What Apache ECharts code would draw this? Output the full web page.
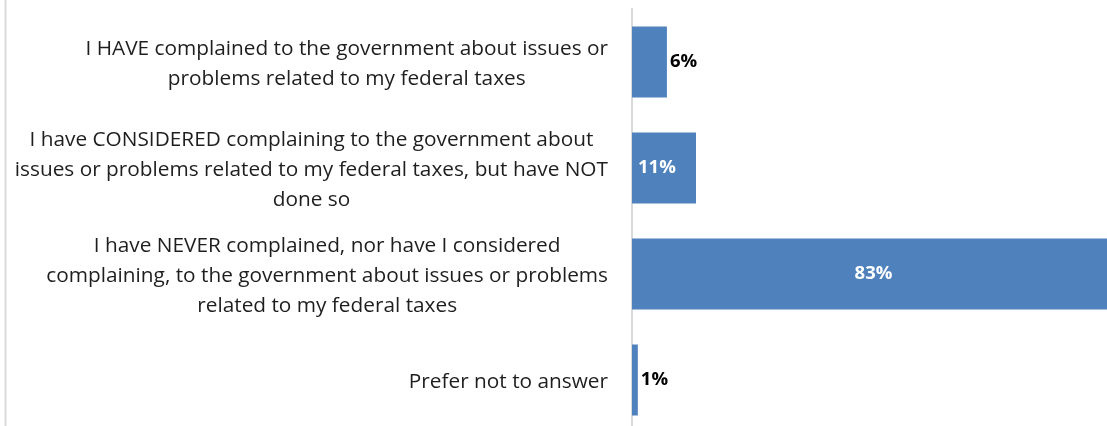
<!DOCTYPE html>
<html>
<head>
<meta charset="utf-8">
<script src="https://cdn.jsdelivr.net/npm/echarts@6/dist/echarts.min.js"></script>
<style>
  html, body { margin: 0; padding: 0; background: #fff; }
  #chart { width: 1107px; height: 426px; }
</style>
</head>
<body>
<div id="chart"></div>
<script>
// Survey answers, top to bottom
const categories = [
  'I HAVE complained to the government about issues or\nproblems related to my federal taxes',
  'I have CONSIDERED complaining to the government about\nissues or problems related to my federal taxes, but have NOT\ndone so',
  'I have NEVER complained, nor have I considered\ncomplaining, to the government about issues or problems\nrelated to my federal taxes',
  'Prefer not to answer'
];
// Share of respondents, percent
const values = [6, 11, 83, 1];
// Where each value label sits
const labelPlacement = ['right', 'insideLeft', 'inside', 'right'];

const FONT = '"Open Sans", "Noto Sans", sans-serif';
const LABEL_SIZE = 20.8;

const chart = echarts.init(document.getElementById('chart'), null, { renderer: 'canvas' });

chart.setOption({
  animation: false,
  // plot area runs a little past the bottom and right edges of the canvas
  grid: {
    left: 632, top: 9, width: 483, height: 424,
    containLabel: false, outerBoundsMode: 'none'
  },
  graphic: [{
    type: 'line',
    shape: { x1: 5.5, y1: 0, x2: 5.5, y2: 426 },
    style: { stroke: '#d9d9d9', lineWidth: 2 }
  }],
  xAxis: {
    type: 'value', min: 0, max: 83,
    show: false
  },
  yAxis: {
    type: 'category',
    data: categories,
    inverse: true,
    axisLine: { show: true, lineStyle: { color: '#d9d9d9', width: 2 } },
    axisTick: { show: false },
    axisLabel: {
      margin: 24,
      align: 'right',
      padding: [5, 0, 0, 0],
      fontFamily: FONT,
      fontSize: LABEL_SIZE,
      lineHeight: 30,
      color: '#1e1e1e',
      formatter: function (v) {
        return v.split('\n').map(function (l) { return '{c|' + l + '}'; }).join('\n');
      },
      rich: {
        c: { align: 'center', fontFamily: FONT, fontSize: LABEL_SIZE, lineHeight: 30, color: '#1e1e1e' }
      }
    }
  },
  series: [{
    type: 'bar',
    barCategoryGap: '33%',
    itemStyle: { color: '#4f81bd' },
    data: values.map(function (v, i) {
      const inside = labelPlacement[i] !== 'right';
      return {
        value: v,
        label: {
          show: true,
          position: labelPlacement[i],
          distance: inside ? 6 : 3,
          formatter: '{c}%',
          fontFamily: FONT,
          fontWeight: 'bold',
          fontSize: 18.5,
          color: inside ? '#ffffff' : '#000000'
        }
      };
    })
  }]
});
</script>
</body>
</html>
